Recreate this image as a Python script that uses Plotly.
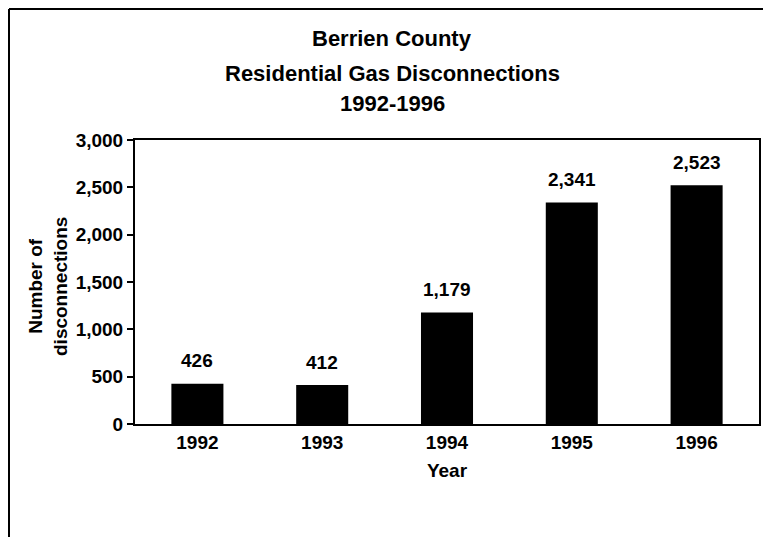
import plotly.graph_objects as go

years = ["1992", "1993", "1994", "1995", "1996"]
disconnections = [426, 412, 1179, 2341, 2523]
value_labels = ["426", "412", "1,179", "2,341", "2,523"]
y_ticks = [0, 500, 1000, 1500, 2000, 2500, 3000]
y_tick_labels = ["0", "500", "1,000", "1,500", "2,000", "2,500", "3,000"]
title_lines = ["Berrien County", "Residential Gas Disconnections", "1992-1996"]

FONT = "Liberation Sans"
OFF = 8  # page body margin
W, H = 771, 537
L, R, T, B = 127, 20, 132, 121
pw, ph = W - L - R, H - T - B


def fx(img_x):
    return (img_x - OFF - L) / pw


def fy(img_y):
    return (H - B - (img_y - OFF)) / ph


fig = go.Figure()
fig.add_trace(go.Bar(
    x=years, y=disconnections,
    marker=dict(color="black", line=dict(width=0)),
    width=0.417,
    hoverinfo="x+y",
))

# value labels above the bars (category index positions)
for i, (v, lab) in enumerate(zip(disconnections, value_labels)):
    fig.add_annotation(x=i, y=v, xref="x", yref="y", text="<b>%s</b>" % lab,
                       showarrow=False, yshift=23, yanchor="middle",
                       font=dict(family=FONT, size=19, color="black"))

# title lines
for line, yc in zip(title_lines, [38, 73, 104]):
    fig.add_annotation(xref="paper", yref="paper", x=fx(392), y=fy(yc),
                       text="<b>%s</b>" % line, showarrow=False,
                       xanchor="center", yanchor="middle",
                       font=dict(family=FONT, size=22, color="black"))

# y-axis title
fig.add_annotation(xref="paper", yref="paper", x=fx(48), y=fy(287),
                   text="<b>Number of<br>disconnections</b>", showarrow=False,
                   textangle=-90, xanchor="center", yanchor="middle",
                   font=dict(family=FONT, size=19, color="black"))

# outer chart frame (partially visible in the scan)
fig.add_shape(type="line", xref="paper", yref="paper",
              x0=fx(9), x1=fx(780), y0=fy(9), y1=fy(9),
              line=dict(color="black", width=2))
fig.add_shape(type="line", xref="paper", yref="paper",
              x0=fx(9), x1=fx(9), y0=fy(9), y1=fy(560),
              line=dict(color="black", width=2))

fig.update_layout(
    width=W, height=H,
    margin=dict(l=L, r=R, t=T, b=B),
    paper_bgcolor="white", plot_bgcolor="white",
    showlegend=False,
    font=dict(family=FONT, color="black"),
)

fig.update_xaxes(
    type="category", range=[-0.5, len(years) - 0.5],
    showline=True, linecolor="black", linewidth=2, mirror=True,
    ticks="", tickfont=dict(family=FONT, size=19, color="black"),
    tickprefix="<b>", ticksuffix="</b>",
    title=dict(text="<b>Year</b>", font=dict(family=FONT, size=19, color="black"),
               standoff=12),
    showgrid=False,
)
fig.update_yaxes(
    range=[0, 3000], tickvals=y_ticks,
    ticktext=["<b>%s</b>" % t for t in y_tick_labels],
    showline=True, linecolor="black", linewidth=2, mirror=True,
    ticks="outside", ticklen=6, tickwidth=2, tickcolor="black",
    tickfont=dict(family=FONT, size=19, color="black"),
    showgrid=False, zeroline=False,
)

fig.write_html("out.html")
